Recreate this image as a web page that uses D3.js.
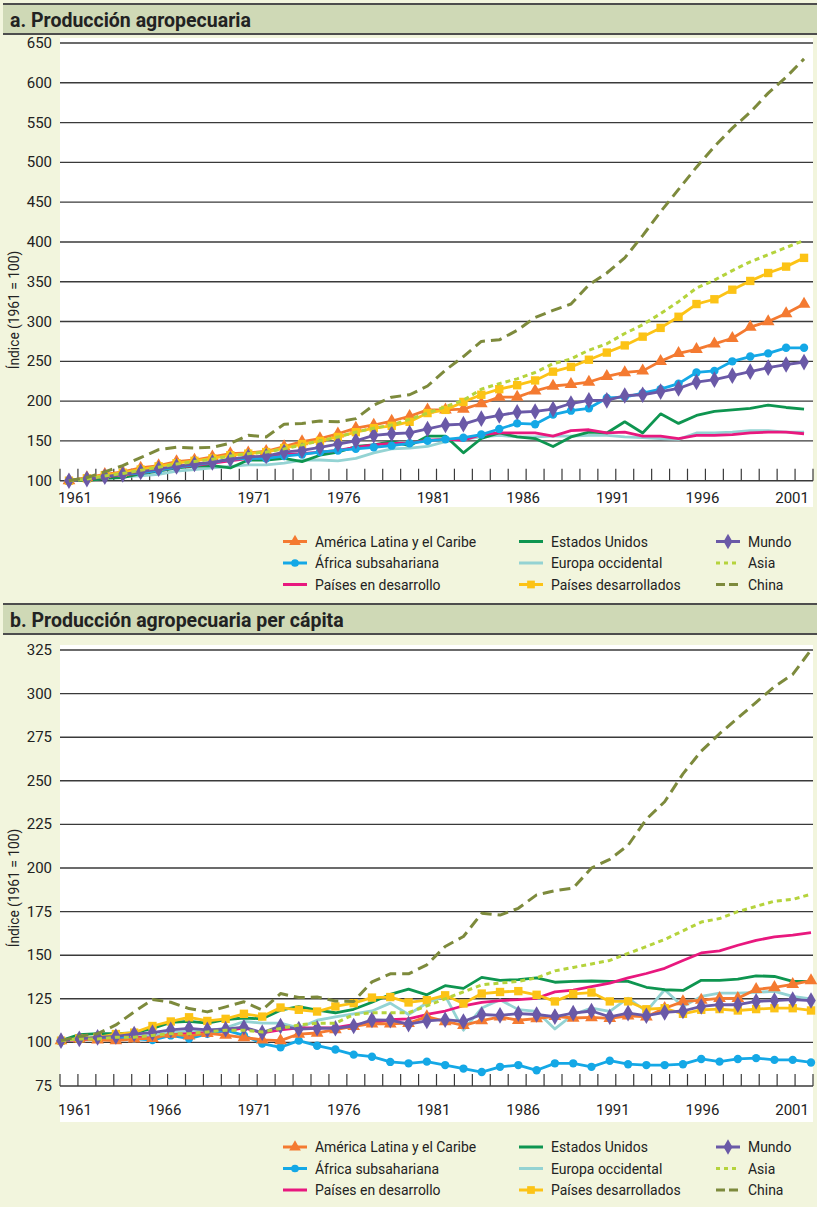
<!DOCTYPE html>
<html><head><meta charset="utf-8">
<script src="https://cdn.jsdelivr.net/npm/d3@7"></script>
<style>
body{margin:0;background:#f2f5dd;}
svg{display:block}
text{font-family:"Roboto","Noto Sans",sans-serif;fill:#222;}
</style>
</head><body><svg id="c" width="817" height="1207"></svg>
<script>
// ---------- DATA ----------
const years = [1961,1962,1963,1964,1965,1966,1967,1968,1969,1970,1971,1972,1973,1974,1975,1976,1977,1978,1979,1980,1981,1982,1983,1984,1985,1986,1987,1988,1989,1990,1991,1992,1993,1994,1995,1996,1997,1998,1999,2000,2001,2002];
const tickYears = [1961,1966,1971,1976,1981,1986,1991,1996,2001];
const yTicksA = [100,150,200,250,300,350,400,450,500,550,600,650];
const yTicksB = [75,100,125,150,175,200,225,250,275,300,325];
const seriesNames = ["América Latina y el Caribe","África subsahariana","Países en desarrollo","Estados Unidos","Europa occidental","Países desarrollados","Mundo","Asia","China"];

// a. Producción agropecuaria
const aLatAm = [100,104,108,111,116,119,124,126,130,134,135,137,143,149,153,159,166,170,175,181,189,189,190,197,205,205,213,219,221,224,231,236,238,250,260,265,272,279,293,300,310,322];
const aAfrica = [100,103,106,108,110,113,117,120,123,127,128,128,131,133,136,138,140,142,144,147,150,152,154,158,165,172,171,183,188,191,204,205,210,215,222,236,238,250,256,260,267,267];
const aDeveloping = [100,102,105,107,110,113,117,119,122,125,128,129,133,134,136,138,142,145,147,147,151,152,151,158,160,160,160,156,163,164,160,161,156,156,153,157,157,158,160,161,161,159];
const aUSA = [100,100,103,104,109,112,116,118,119,116,126,126,128,124,132,136,143,145,149,144,156,156,135,153,160,155,153,143,155,161,160,174,160,184,172,182,187,189,191,195,192,190];
const aEurope = [100,101,103,105,106,108,112,114,116,118,120,120,122,126,126,125,128,135,140,141,143,149,152,155,157,155,155,156,156,157,157,155,154,153,152,160,160,161,163,163,161,161];
const aDeveloped = [100,103,107,110,114,118,122,125,128,132,134,136,141,146,150,155,161,166,169,174,185,189,199,208,215,220,226,237,243,252,261,270,281,292,306,322,328,340,351,361,369,380];
const aWorld = [100,102,105,108,111,115,118,121,123,127,130,131,136,138,142,146,150,157,159,160,165,170,171,178,182,186,187,190,197,201,201,207,208,212,216,224,227,232,237,242,246,249];
const aAsia = [100,102,106,109,113,117,121,124,127,131,134,136,140,145,150,155,161,166,170,177,185,193,201,215,222,228,236,247,253,264,272,285,296,310,325,342,352,364,375,384,393,402];
const aChina = [100,104,111,119,129,139,142,141,142,147,157,155,171,172,175,174,178,195,205,208,219,239,256,275,277,289,305,314,322,346,361,380,408,438,466,494,520,543,563,587,607,630];

// b. Producción agropecuaria per cápita
const bLatAm = [101,102,101.5,101,102,102.3,104.8,103.8,105.2,104.2,102.8,101.5,101,104.8,105.4,107.3,109.2,110.7,110.7,111,114.8,112,109.8,112.5,114.6,112.7,113.6,115,114,114.3,113.8,115.2,114.7,119.6,123.4,124.3,125.3,125.3,130.4,131.5,133.3,135.4];
const bAfrica = [101,102,102.6,103.2,102.2,101.3,104,102.2,104.9,107,104,99.3,97.2,101,98.1,95.9,93,91.8,88.8,88,89,87,85,83,86,87,84,88,88,86,89.5,87.5,87,87,87.5,90.5,89,90.5,91,90,90,88.5];
const bDeveloping = [101,101.5,102,102.5,103,102.5,104.5,105,105.6,106.5,108.3,105.5,107.2,108.3,108.3,108.5,110.2,111.1,113,113.5,116,118,121,123,124,124.5,125.3,129,130,132,134,137,139.5,142.5,147,151.3,152.5,155.7,158.5,160.5,161.5,163];
const bUSA = [101,104.5,105,105,105.5,108,111.5,112,111,113,114,113.5,118.5,120.5,118.5,117,119,123,127.5,130.5,127.3,132.5,131,137.3,135.6,136,137,134.5,135,135.2,135,135,131.6,130.2,129.8,135.6,135.6,136.3,138.2,137.8,135,135];
const bEurope = [101,101.5,102.3,103.4,103.4,104,105.6,106.5,106.5,108.3,112,111,111,108.3,112.7,114.6,116.4,118,122.5,116,122.6,126.8,107,119.7,124.5,118.8,117.8,107.7,116,119.7,117.8,125.4,117.8,130.2,120.6,126.4,128.3,128.3,128.7,129.3,126.4,125];
const bDeveloped = [101,102.3,102.9,104.8,105.6,109.4,112,114.4,112.3,113.5,116.4,114.8,120,118.7,117.7,120.6,122.5,125.7,126,122.9,124.2,127,122.3,128,128.9,129.4,127.3,123.5,127.8,128.6,123.5,123.5,119,119.6,116.4,118.7,119.1,118.3,119.1,119.6,119.6,118.3];
const bWorld = [101,102,102.9,103.4,104.8,105.6,107.2,108.1,107.2,107.6,108.7,105.6,109.4,107.6,108.1,108.1,109.4,112.9,112.8,110.5,112.3,113,112,116,115.5,116.5,116,114.8,116.8,118,114.7,116.8,115.3,117.2,118,120.6,121.6,121.6,123.5,124,124.5,124];
const bAsia = [101,102,102,103,103,104,105,105,106,107,107,106,108,110,111,111,116,117,117,117,121,125,129,133,134,135,137,141,143,145,147,151,155,159,164,169,171,175,178,181,182,185];
const bChina = [101,103.5,105,110,117.5,124.6,123,119.4,117.5,120.4,123.3,118.5,128,125.7,126,123.7,123.5,134.7,139.3,139.3,144.5,155,160.7,174,173,176.9,184.6,187,188.5,200,205,213,228,238,254,267,277,286,295,304,311,325];

// ---------- STYLES ----------
const styles = [
  {color:"#f47a31", marker:d3.symbolTriangle, msize:70, dash:null},
  {color:"#14a8e6", marker:d3.symbolCircle, msize:55, dash:null},
  {color:"#e8187e", marker:null, dash:null},
  {color:"#0e9550", marker:null, dash:null},
  {color:"#94d3d3", marker:null, dash:null},
  {color:"#fcc316", marker:d3.symbolSquare, msize:70, dash:null},
  {color:"#6a59a7", marker:d3.symbolDiamond, msize:80, dash:null},
  {color:"#b5d33c", marker:null, dash:"5,4"},
  {color:"#7d8a3c", marker:null, dash:"11,6"}
];
const drawOrder = [4,3,2,1,0,5,6,7,8];
const legendOrder = [[0,1,2],[3,4,5],[6,7,8]]; // columns

const svg = d3.select("#c");

function header(y, title){
  svg.append("rect").attr("x",3).attr("y",y).attr("width",814).attr("height",30).attr("fill","#cfd9b6");
  svg.append("line").attr("x1",3).attr("x2",817).attr("y1",y).attr("y2",y).attr("stroke","#4d4d4d").attr("stroke-width",2);
  svg.append("line").attr("x1",3).attr("x2",817).attr("y1",y+30).attr("y2",y+30).attr("stroke","#4d4d4d").attr("stroke-width",2);
  svg.append("text").attr("transform",`translate(10,${y+23}) scale(0.93,1)`)
    .attr("font-size",21).attr("font-weight","bold").attr("fill","#1a1a1a").text(title);
}

function panel(cfg){
  const {data, yDomain, yRange, yTicks, xPoint, plotTop, plotBottom, labelY, titleY} = cfg;
  svg.append("rect").attr("x",60).attr("y",plotTop).attr("width",753).attr("height",plotBottom-plotTop).attr("fill","#fff");
  const y = d3.scaleLinear().domain(yDomain).range(yRange);
  const band = d3.scaleBand().domain(years).range([60,813]).paddingInner(0).paddingOuter(0);
  const x = xPoint ? d3.scalePoint().domain(years).range(xPoint) : (d => band(d) + band.bandwidth()/2);
  svg.append("g").selectAll("line").data(yTicks).join("line")
    .attr("x1",60).attr("x2",813).attr("y1",d=>y(d)).attr("y2",d=>y(d))
    .attr("stroke","#3a3a3a").attr("stroke-width",1.4);
  svg.append("g").selectAll("text").data(yTicks).join("text")
    .attr("x",52).attr("y",d=>y(d)+5).attr("text-anchor","end").attr("font-size",15).text(d=>d);
  const edges = years.map(d=>band(d)).concat([813]);
  const axisY = y(yDomain[0]);
  svg.append("g").selectAll("line").data(edges).join("line")
    .attr("x1",d=>d).attr("x2",d=>d).attr("y1",axisY-12).attr("y2",axisY)
    .attr("stroke","#3a3a3a").attr("stroke-width",1.2);
  svg.append("g").selectAll("text").data(tickYears).join("text")
    .attr("x",d=>band(d)+band.bandwidth()/2+6).attr("y",labelY).attr("text-anchor","middle").attr("font-size",15).text(d=>d);
  svg.append("text").attr("transform",`translate(19,${titleY}) rotate(-90) scale(0.92,1)`).attr("text-anchor","middle").attr("font-size",15).text("Índice (1961 = 100)");
  const line = d3.line().x((d,i)=>x(years[i])).y(d=>y(d));
  drawOrder.forEach(si=>{
    const st = styles[si];
    const vals = data[si];
    svg.append("path").datum(vals).attr("d",line).attr("fill","none")
      .attr("stroke",st.color).attr("stroke-width",st.dash?3:2.8)
      .attr("stroke-dasharray",st.dash).attr("stroke-linejoin","round");
    if(st.marker){
      svg.append("g").selectAll("path").data(vals).join("path")
        .attr("d",d3.symbol().type(st.marker).size(st.msize))
        .attr("transform",(d,i)=>`translate(${x(years[i])},${y(d)})`)
        .attr("fill",st.color);
    }
  });
}

function legend(top){
  const colX = [283,519,716];
  const rowH = 21.5;
  legendOrder.forEach((col,ci)=>{
    col.forEach((si,ri)=>{
      const st = styles[si];
      const cy = top + ri*rowH;
      const g = svg.append("g");
      g.append("line").attr("x1",colX[ci]).attr("x2",colX[ci]+24).attr("y1",cy).attr("y2",cy)
        .attr("stroke",st.color).attr("stroke-width",3).attr("stroke-dasharray",st.dash? (si===7?"4,4":"9,4"):null);
      if(st.marker){
        g.append("path").attr("d",d3.symbol().type(st.marker).size(st.msize*0.85)).attr("transform",`translate(${colX[ci]+12},${cy})`).attr("fill",st.color);
      }
      g.append("text").attr("transform",`translate(${colX[ci]+32},${cy+5}) scale(0.9,1)`).attr("font-size",15.5).text(seriesNames[si]);
    });
  });
}

header(4, "a. Producción agropecuaria");
panel({data:[aLatAm,aAfrica,aDeveloping,aUSA,aEurope,aDeveloped,aWorld,aAsia,aChina],
  yDomain:[100,650], yRange:[480.7,43], yTicks:yTicksA, xPoint:null, plotTop:38, plotBottom:507, labelY:503, titleY:310});
legend(541.5);

header(604, "b. Producción agropecuaria per cápita");
panel({data:[bLatAm,bAfrica,bDeveloping,bUSA,bEurope,bDeveloped,bWorld,bAsia,bChina],
  yDomain:[75,325], yRange:[1086,650], yTicks:yTicksB, xPoint:[61,811], plotTop:645, plotBottom:1122, labelY:1115, titleY:888});
legend(1147);
</script></body></html>
